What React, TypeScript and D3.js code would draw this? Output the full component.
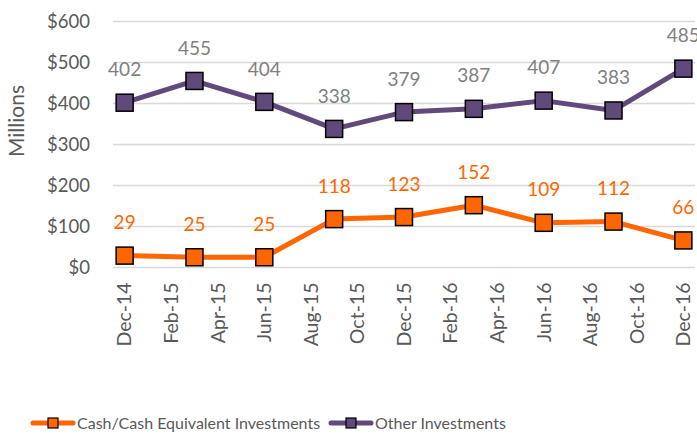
import React from "react";
import * as d3 from "d3";

const quarters = ["Dec-14", "Mar-15", "Jun-15", "Sep-15", "Dec-15", "Mar-16", "Jun-16", "Sep-16", "Dec-16"];
const quarterMonthIndex = [0, 3, 6, 9, 12, 15, 18, 21, 24];
const cashValues = [29, 25, 25, 118, 123, 152, 109, 112, 66];
const otherValues = [402, 455, 404, 338, 379, 387, 407, 383, 485];
const xTickLabels = ["Dec-14", "Feb-15", "Apr-15", "Jun-15", "Aug-15", "Oct-15", "Dec-15", "Feb-16", "Apr-16", "Jun-16", "Aug-16", "Oct-16", "Dec-16"];
const yTicks = [0, 100, 200, 300, 400, 500, 600];

const W = 697;
const H = 438;
const FONT = "Lato, 'Open Sans', sans-serif";
const ORANGE = "#FF6600";
const PURPLE = "#604A7B";
const TEXT = "#595959";
const LABEL_GRAY = "#808080";

export default function App() {
  const plotLeft = 113;
  const plotRight = 695;
  const x = d3.scaleLinear().domain([-0.5, 24.5]).range([plotLeft, plotRight]);
  const y = d3.scaleLinear().domain([0, 600]).range([267.5, 21.5]);

  const line = d3
    .line<number>()
    .x((_, i) => x(quarterMonthIndex[i]))
    .y((d) => y(d));

  const series = [
    { name: "Cash/Cash Equivalent Investments", values: cashValues, color: ORANGE, labelColor: ORANGE },
    { name: "Other Investments", values: otherValues, color: PURPLE, labelColor: LABEL_GRAY },
  ];

  const ms = 17;

  const legendItems = [
    { s: series[0], x0: 33, textX: 77 },
    { s: series[1], x0: 331, textX: 375 },
  ];

  return (
    <svg
      width={W}
      height={H}
      style={{ position: "absolute", left: 0, top: 0, display: "block", background: "#fff" }}
      fontFamily={FONT}
    >
      {yTicks.map((t) => (
        <g key={t}>
          <line x1={plotLeft} x2={plotRight} y1={y(t)} y2={y(t)} stroke="#D9D9D9" strokeWidth={1.5} />
          <text x={90} y={y(t)} dy="0.35em" textAnchor="end" fontSize={18.5} fill={TEXT}>
            {"$" + t}
          </text>
        </g>
      ))}
      <text
        transform={`translate(24,121) rotate(-90)`}
        textAnchor="middle"
        fontSize={21}
        fill={TEXT}
      >
        Millions
      </text>
      {xTickLabels.map((lab, i) => (
        <text
          key={lab}
          transform={`translate(${x(i * 2)},${y(0) + 15}) rotate(-90)`}
          textAnchor="end"
          dy="0.35em"
          fontSize={19.5}
          fill={TEXT}
        >
          {lab}
        </text>
      ))}
      {series.map((s) => (
        <g key={s.name}>
          <path d={line(s.values) || ""} fill="none" stroke={s.color} strokeWidth={5} strokeLinejoin="round" />
          {s.values.map((v, i) => (
            <rect
              key={quarters[i]}
              x={x(quarterMonthIndex[i]) - ms / 2}
              y={y(v) - ms / 2}
              width={ms}
              height={ms}
              fill={s.color}
              stroke="#000"
              strokeWidth={1.5}
            />
          ))}
          {s.values.map((v, i) => (
            <text
              key={"l" + quarters[i]}
              x={x(quarterMonthIndex[i])}
              y={y(v) - 33}
              dy="0.35em"
              textAnchor="middle"
              fontSize={19}
              fill={s.labelColor}
            >
              {v}
            </text>
          ))}
        </g>
      ))}
      {legendItems.map(({ s, x0, textX }) => (
        <g key={"leg" + s.name}>
          <line x1={x0} x2={x0 + 40} y1={423} y2={423} stroke={s.color} strokeWidth={5} strokeLinecap="round" />
          <rect x={x0 + 15} y={418} width={10} height={10} fill={s.color} stroke="#000" strokeWidth={1.2} />
          <text x={textX} y={423} dy="0.35em" fontSize={16} fill={TEXT}>
            {s.name}
          </text>
        </g>
      ))}
    </svg>
  );
}
